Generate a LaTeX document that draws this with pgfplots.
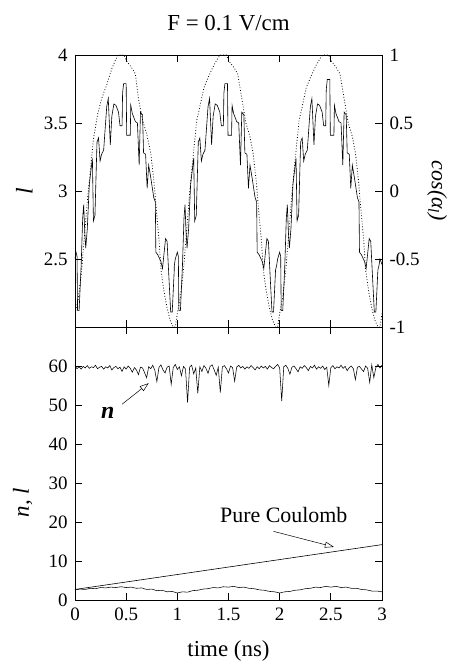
\documentclass[border=0pt]{standalone}
\usepackage{fontspec}
\setmainfont{Liberation Serif}
\usepackage{pgfplots}
\pgfplotsset{compat=1.18}
\usetikzlibrary{arrows.meta}
\pgfplotsset{
  common/.style={
    scale only axis, width=307bp,
    xmin=0, xmax=3,
    tick align=inside,
    major tick length=7bp,
    axis line style={line width=0.7pt},
    every tick/.style={line width=0.7pt, black},
    every tick label/.append style={font=\fontsize{19}{22}\selectfont},
    /pgf/number format/assume math mode=true,
    clip=true,
  },
}
\begin{document}
\begin{tikzpicture}
% ---------------- bottom panel ----------------
\begin{axis}[common, name=bot, at={(0,0)}, anchor=south west, height=273bp,
  ymin=0, ymax=70, ytick={0,10,20,30,40,50,60},
  yticklabels={0,10,20,30,40,50,60},
  xtick={0,0.5,1,1.5,2,2.5,3}, xticklabels={0,0.5,1,1.5,2,2.5,3},
  xticklabel style={yshift=-4bp},
  yticklabel style={xshift=-4bp},
  xlabel={time (ns)},
  xlabel style={font=\fontsize{23}{26}\selectfont, at={(axis description cs:0.5,-0.185)}, anchor=center},
  ylabel={\textit{n, l}},
  ylabel style={font=\fontsize{23}{26}\selectfont, at={(axis description cs:-0.17,0.357)}, anchor=center},
]
% n
\addplot[black, line width=0.55pt] coordinates {
(0.00,60.0)(0.02,59.3)(0.04,59.8)(0.06,59.2)(0.08,59.9)(0.10,59.5)(0.12,60.1)(0.14,59.4)(0.16,59.8)(0.18,59.6)
(0.20,60.2)(0.22,59.3)(0.24,59.7)(0.26,59.9)(0.28,59.2)(0.30,59.8)(0.32,59.5)(0.34,60.1)(0.36,59.0)(0.38,59.6)
(0.40,59.9)(0.42,59.3)(0.44,59.7)(0.46,58.6)(0.48,59.8)(0.50,59.2)(0.52,60.0)(0.54,59.4)(0.56,58.4)(0.58,59.6)
(0.60,59.0)(0.62,57.8)(0.64,59.7)(0.66,59.5)(0.68,58.3)(0.70,57.0)(0.72,59.8)(0.74,59.3)(0.76,60.2)(0.78,58.9)
(0.80,56.0)(0.82,59.6)(0.84,60.3)(0.86,59.0)(0.88,58.2)(0.90,59.7)(0.92,60.0)(0.94,55.3)(0.96,59.6)(0.98,60.4)
(1.00,59.1)(1.02,59.8)(1.04,57.5)(1.06,59.9)(1.08,59.2)(1.10,50.6)(1.12,59.7)(1.14,60.2)(1.16,58.0)(1.18,59.5)
(1.20,53.0)(1.22,59.8)(1.24,58.6)(1.26,60.1)(1.28,59.4)(1.30,58.1)(1.32,59.9)(1.34,60.3)(1.36,59.0)(1.38,57.6)
(1.40,59.7)(1.42,53.2)(1.44,59.8)(1.46,60.1)(1.48,59.3)(1.50,58.2)(1.52,60.0)(1.54,59.6)(1.56,56.1)(1.58,59.7)
(1.60,60.2)(1.62,59.5)(1.64,59.9)(1.66,59.2)(1.68,59.8)(1.70,59.4)(1.72,60.1)(1.74,59.6)(1.76,59.0)(1.78,59.8)
(1.80,59.3)(1.82,60.0)(1.84,59.5)(1.86,59.9)(1.88,59.2)(1.90,60.1)(1.92,59.6)(1.94,59.3)(1.96,59.9)(1.98,60.4)
(2.00,59.5)(2.02,51.0)(2.04,59.8)(2.06,60.2)(2.08,59.4)(2.10,57.9)(2.12,59.7)(2.14,60.0)(2.16,59.3)(2.18,58.5)
(2.20,59.8)(2.22,59.4)(2.24,60.1)(2.26,59.6)(2.28,58.8)(2.30,59.9)(2.32,59.5)(2.34,60.2)(2.36,59.2)(2.38,59.8)
(2.40,59.4)(2.42,60.0)(2.44,59.1)(2.46,59.7)(2.48,55.0)(2.50,59.6)(2.52,60.1)(2.54,59.3)(2.56,59.8)(2.58,59.5)
(2.60,60.2)(2.62,59.4)(2.64,59.9)(2.66,58.8)(2.68,59.6)(2.70,60.0)(2.72,59.3)(2.74,56.5)(2.76,59.7)(2.78,59.9)
(2.80,59.2)(2.82,58.6)(2.84,60.0)(2.86,59.4)(2.88,55.8)(2.90,60.3)(2.92,57.0)(2.94,59.6)(2.96,60.4)(2.98,59.5)
(3.00,60.2)
};
% l with field
\addplot[black, line width=0.55pt] coordinates {
(0.00,2.6)(0.05,2.8)(0.10,2.7)(0.15,3.0)(0.20,2.9)(0.25,3.2)(0.30,3.1)(0.35,3.3)(0.40,3.2)(0.45,3.4)
(0.50,3.2)(0.55,3.3)(0.60,3.0)(0.65,3.1)(0.70,2.7)(0.75,2.8)(0.80,2.4)(0.85,2.5)(0.90,2.1)(0.95,2.2)
(1.00,1.8)(1.05,2.1)(1.10,2.0)(1.15,2.4)(1.20,2.5)(1.25,2.8)(1.30,2.9)(1.35,3.2)(1.40,3.1)(1.45,3.4)
(1.50,3.3)(1.55,3.5)(1.60,3.2)(1.65,3.3)(1.70,3.0)(1.75,2.9)(1.80,2.6)(1.85,2.5)(1.90,2.2)(1.95,2.1)
(2.00,1.8)(2.05,2.1)(2.10,2.2)(2.15,2.5)(2.20,2.6)(2.25,2.9)(2.30,3.0)(2.35,3.3)(2.40,3.2)(2.45,3.5)
(2.50,3.3)(2.55,3.5)(2.60,3.2)(2.65,3.3)(2.70,3.0)(2.75,3.0)(2.80,2.7)(2.85,2.6)(2.90,2.3)(2.95,2.3)
(3.00,2.1)
};
% pure Coulomb
\addplot[black, line width=0.6pt] coordinates {(0,2.7)(3,14.2)};
\node[font=\fontsize{24}{26}\selectfont\bfseries\itshape] at (axis cs:0.32,48.0) {n};
\draw[line width=0.5pt, -{Triangle[open, length=9bp, width=6bp]}] (axis cs:0.46,50.2) -- (axis cs:0.72,55.6);
\node[font=\fontsize{22}{25}\selectfont] at (axis cs:2.04,21.8) {Pure Coulomb};
\draw[line width=0.5pt, -{Triangle[open, length=9bp, width=6bp]}] (axis cs:1.94,17.6) -- (axis cs:2.53,13.6);
\end{axis}
% ---------------- top panel, l ----------------
\begin{axis}[common, at={(0,273bp)}, anchor=south west, height=272bp,
  ymin=2, ymax=4, ytick={2.5,3,3.5,4}, yticklabels={2.5,3,3.5,4},
  ytick pos=left,
  yticklabel style={xshift=-4bp},
  xtick={0,0.5,1,1.5,2,2.5,3}, xticklabels={},
  ylabel={\textit{l}},
  ylabel style={font=\fontsize{24}{26}\selectfont, at={(axis description cs:-0.165,0.5)}, anchor=center},
]
\addplot[black, line width=0.6pt] coordinates {
(0.00,2.50)(0.01,2.55)(0.02,2.52)(0.025,2.12)(0.04,2.12)(0.06,2.45)(0.075,2.80)(0.085,2.90)(0.095,2.70)(0.105,2.58)
(0.12,2.72)(0.14,3.05)(0.154,3.14)(0.17,3.24)(0.18,2.78)(0.195,2.82)(0.215,3.36)(0.23,3.39)(0.245,3.22)(0.26,3.27)
(0.28,3.30)(0.31,3.62)(0.325,3.68)(0.345,3.34)(0.36,3.55)(0.38,3.64)(0.40,3.63)(0.425,3.58)(0.44,3.48)(0.46,3.48)
(0.465,3.72)(0.475,3.79)(0.50,3.79)(0.505,3.41)(0.54,3.41)(0.545,3.63)(0.56,3.57)(0.59,3.51)(0.61,3.50)(0.627,3.19)
(0.64,3.58)(0.66,3.56)(0.67,3.28)(0.69,3.27)(0.705,3.02)(0.72,3.19)(0.74,3.10)(0.77,2.95)(0.785,2.92)(0.79,2.55)
(0.81,2.53)(0.84,2.48)(0.855,2.43)(0.885,2.65)(0.90,2.63)(0.92,2.33)(0.935,2.11)(0.95,2.11)(0.97,2.42)
(0.97,2.45)(0.98,2.50)(1.00,2.55)(1.01,2.52)(1.015,2.12)(1.03,2.12)(1.05,2.45)(1.065,2.80)(1.075,2.90)(1.085,2.70)
(1.095,2.58)(1.11,2.72)(1.13,3.05)(1.144,3.14)(1.16,3.24)(1.17,2.78)(1.185,2.82)(1.205,3.36)(1.22,3.39)(1.235,3.22)
(1.25,3.27)(1.27,3.30)(1.30,3.62)(1.315,3.68)(1.335,3.34)(1.35,3.55)(1.37,3.64)(1.39,3.63)(1.415,3.58)(1.43,3.48)
(1.45,3.48)(1.455,3.72)(1.465,3.79)(1.49,3.79)(1.495,3.41)(1.53,3.41)(1.535,3.63)(1.55,3.57)(1.58,3.51)(1.60,3.50)
(1.617,3.19)(1.63,3.58)(1.65,3.56)(1.66,3.28)(1.68,3.27)(1.695,3.02)(1.71,3.19)(1.73,3.10)(1.76,2.95)(1.775,2.92)
(1.78,2.55)(1.80,2.53)(1.83,2.48)(1.845,2.43)(1.875,2.65)(1.89,2.63)(1.91,2.33)(1.925,2.11)(1.94,2.11)(1.96,2.42)
(1.97,2.45)(1.98,2.50)(2.00,2.55)(2.01,2.52)(2.015,2.12)(2.03,2.12)(2.05,2.45)(2.065,2.80)(2.075,2.90)(2.085,2.70)
(2.095,2.58)(2.11,2.72)(2.13,3.05)(2.144,3.14)(2.16,3.24)(2.17,2.78)(2.185,2.82)(2.205,3.36)(2.22,3.39)(2.235,3.22)
(2.25,3.27)(2.27,3.30)(2.30,3.62)(2.315,3.68)(2.335,3.34)(2.35,3.55)(2.37,3.64)(2.39,3.63)(2.415,3.58)(2.43,3.48)
(2.45,3.48)(2.455,3.74)(2.465,3.82)(2.49,3.82)(2.495,3.41)(2.53,3.41)(2.535,3.63)(2.55,3.57)(2.58,3.51)(2.60,3.50)
(2.617,3.19)(2.63,3.58)(2.65,3.56)(2.66,3.28)(2.68,3.27)(2.695,3.02)(2.71,3.19)(2.73,3.10)(2.76,2.95)(2.775,2.92)
(2.78,2.55)(2.80,2.53)(2.83,2.48)(2.845,2.43)(2.875,2.65)(2.89,2.63)(2.91,2.33)(2.925,2.11)(2.94,2.11)(2.96,2.42)
(2.97,2.45)(2.98,2.50)(3.00,2.46)
};
\end{axis}
% ---------------- top panel, cos(alpha_l) ----------------
\begin{axis}[common, at={(0,273bp)}, anchor=south west, height=272bp,
  ymin=-1, ymax=1, ytick={-1,-0.5,0,0.5,1}, yticklabels={-1,-0.5,0,0.5,1},
  ytick pos=right, yticklabel pos=right,
  yticklabel style={xshift=4bp},
  xtick=\empty,
  ylabel={\textit{cos(α\textsubscript{l})}},
  ylabel style={font=\fontsize{22}{25}\selectfont, at={(axis description cs:1.18,0.5)}, anchor=center, rotate=180},
]
\addplot[black, line width=0.8pt, dotted] coordinates {
(0.00,-0.90)(0.03,-0.80)(0.06,-0.62)(0.09,-0.35)(0.12,-0.08)(0.15,0.15)(0.18,0.38)(0.22,0.56)(0.26,0.68)(0.31,0.78)
(0.36,0.90)(0.40,0.97)(0.42,1.0)(0.48,1.0)(0.50,0.96)(0.56,0.90)(0.59,0.86)(0.62,0.68)(0.66,0.52)(0.70,0.42)
(0.74,0.28)(0.77,0.08)(0.79,-0.10)(0.82,-0.35)(0.84,-0.58)(0.87,-0.74)(0.90,-0.86)(0.93,-0.95)(0.96,-1.0)(0.98,-1.0)
(1.00,-0.90)(1.03,-0.78)(1.06,-0.58)(1.09,-0.30)(1.12,-0.02)(1.15,0.22)(1.19,0.52)(1.22,0.62)(1.26,0.76)(1.31,0.85)
(1.36,0.93)(1.40,0.98)(1.42,1.0)(1.48,1.0)(1.50,0.96)(1.56,0.90)(1.59,0.86)(1.63,0.68)(1.67,0.50)(1.71,0.40)
(1.74,0.28)(1.77,0.08)(1.79,-0.10)(1.82,-0.35)(1.84,-0.58)(1.87,-0.74)(1.90,-0.86)(1.93,-0.95)(1.96,-1.0)(1.98,-1.0)
(2.00,-0.90)(2.03,-0.78)(2.06,-0.58)(2.09,-0.30)(2.12,-0.02)(2.15,0.22)(2.19,0.52)(2.22,0.62)(2.26,0.76)(2.31,0.85)
(2.36,0.93)(2.40,0.98)(2.42,1.0)(2.48,1.0)(2.50,0.96)(2.56,0.90)(2.59,0.86)(2.63,0.68)(2.67,0.50)(2.71,0.40)
(2.74,0.28)(2.77,0.08)(2.79,-0.10)(2.82,-0.35)(2.84,-0.58)(2.87,-0.74)(2.90,-0.86)(2.93,-0.95)(2.96,-1.0)(2.98,-1.0)
(3.00,-0.90)
};
\end{axis}
\node[font=\fontsize{23}{26}\selectfont] at (153.5bp,577bp) {F = 0.1 V/cm};
\pgfresetboundingbox
\useasboundingbox (-75bp,-65bp) rectangle (375bp,600bp);
\end{tikzpicture}
\end{document}
